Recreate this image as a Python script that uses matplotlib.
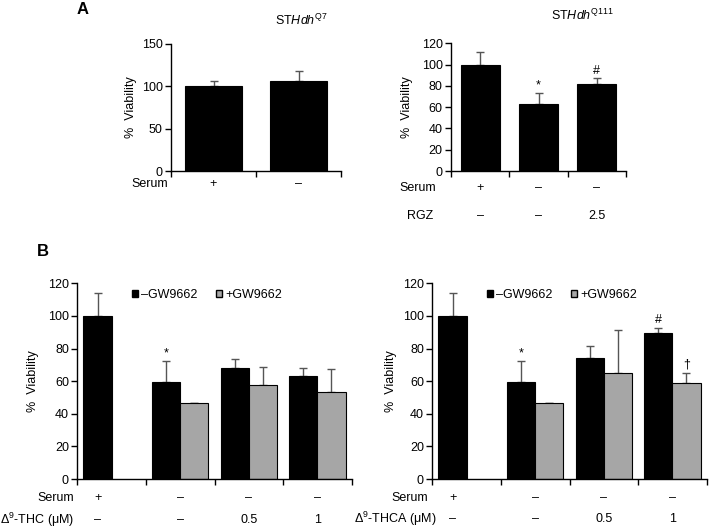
import matplotlib
matplotlib.use("Agg")
import matplotlib.pyplot as plt
from matplotlib.patches import Patch
import numpy as np

plt.rcParams['font.family'] = ['Liberation Sans', 'DejaVu Sans']
plt.rcParams['mathtext.fontset'] = 'custom'
plt.rcParams['mathtext.rm'] = 'Liberation Sans'
plt.rcParams['mathtext.it'] = 'Liberation Sans:italic'
FS = 9
plt.rcParams['font.size'] = FS

# ---------------- data ----------------
a1_labels = ['+', '–']
a1_vals = [100, 106.5]
a1_err = [6.5, 12]

a2_serum = ['+', '–', '–']
a2_rgz = ['–', '–', '2.5']
a2_vals = [100, 62.5, 82]
a2_err = [12, 11, 5]
a2_marks = ['', '*', '#']

b_serum = ['+', '–', '–', '–']
b_thc_conc = ['–', '–', '0.5', '1']
b1_black = [100, 59.5, 68.3, 63.2]
b1_black_err = [14.2, 12.6, 5.2, 5.0]
b1_gray = [np.nan, 46.5, 57.8, 53.2]
b1_gray_err = [np.nan, 0.0, 11, 14.5]
b1_marks_black = ['', '*', '', '']
b1_marks_gray = ['', '', '', '']

b2_black = [100, 59.5, 74.2, 89.5]
b2_black_err = [14.2, 12.6, 7.2, 3.0]
b2_gray = [np.nan, 46.5, 64.7, 58.8]
b2_gray_err = [np.nan, 0.0, 26.5, 6.0]
b2_marks_black = ['', '*', '', '#']
b2_marks_gray = ['', '', '', '†']

W, H = 709, 529
fig = plt.figure(figsize=(W / 100, H / 100), dpi=100)


def add_ax(x0, y0, x1, y1):
    return fig.add_axes([x0 / W, 1 - y1 / H, (x1 - x0) / W, (y1 - y0) / H])


def style(ax, ylim, yticks, ncat, labx):
    ax.set_ylim(*ylim)
    ax.set_yticks(yticks)
    ax.set_xlim(-0.5, ncat - 0.5)
    ax.set_xticks(np.arange(ncat + 1) - 0.5)
    ax.set_xticklabels([])
    for s in ['top', 'right']:
        ax.spines[s].set_visible(False)
    for s in ['left', 'bottom']:
        ax.spines[s].set_linewidth(1.0)
    ax.tick_params(axis='both', direction='out', length=4, width=1.0, labelsize=FS, pad=2)
    ax.set_ylabel('%  Viability', fontsize=FS)
    ax.yaxis.set_label_coords(labx, 0.5)


ecol = '#555555'
ekw = dict(ecolor=ecol, elinewidth=1.0, capsize=3, capthick=1.0)


def bars_with_err(ax, x, vals, err, width, color):
    vals = np.asarray(vals, float)
    err = np.asarray(err, float)
    ok = ~np.isnan(vals)
    ax.bar(x[ok], vals[ok], width=width, color=color, edgecolor='black', linewidth=0.8, zorder=2)
    e = np.where(np.isnan(err), 0, err)
    low = np.zeros_like(e)
    ax.errorbar(x[ok], vals[ok], yerr=[low[ok], e[ok]], fmt='none', zorder=1, **ekw)


def marks(ax, x, vals, err, syms, pad):
    for xi, v, e, s in zip(x, vals, err, syms):
        if s:
            ax.text(xi, v + e + pad, s, ha='center', va='bottom', fontsize=FS)


# ---------- Panel A left ----------
ax1 = add_ax(171, 44, 341, 171)
x = np.arange(len(a1_vals))
bars_with_err(ax1, x, a1_vals, a1_err, 0.68, 'black')
style(ax1, (0, 150), [0, 50, 100, 150], 2, -0.20)
fig.text(301 / W, 1 - 20 / H, r'ST$\mathit{Hdh}^{\mathrm{Q7}}$', ha='center', va='center', fontsize=FS)
fig.text(168 / W, 1 - 184 / H, 'Serum', ha='right', va='center', fontsize=FS)
for xi, s in zip(x, a1_labels):
    ax1.text(xi, -0.102, s, transform=ax1.get_xaxis_transform(), ha='center', va='center', fontsize=FS)

# ---------- Panel A right ----------
ax2 = add_ax(451, 43.3, 626, 171)
x = np.arange(len(a2_vals))
bars_with_err(ax2, x, a2_vals, a2_err, 0.67, 'black')
style(ax2, (0, 120), [0, 20, 40, 60, 80, 100, 120], 3, -0.217)
marks(ax2, x, a2_vals, a2_err, a2_marks, 1.0)
fig.text(582 / W, 1 - 15 / H, r'ST$\mathit{Hdh}^{\mathrm{Q111}}$', ha='center', va='center', fontsize=FS)
fig.text(436 / W, 1 - 188 / H, 'Serum', ha='right', va='center', fontsize=FS)
fig.text(407 / W, 1 - 216 / H, 'RGZ', ha='left', va='center', fontsize=FS)
for xi, s1, s2 in zip(x, a2_serum, a2_rgz):
    ax2.text(xi, (171 - 188) / 127.7, s1, transform=ax2.get_xaxis_transform(), ha='center', va='center', fontsize=FS)
    ax2.text(xi, (171 - 216) / 127.7, s2, transform=ax2.get_xaxis_transform(), ha='center', va='center', fontsize=FS)

fig.text(83 / W, 1 - 10 / H, 'A', ha='center', va='center', fontsize=12, fontweight='bold')
fig.text(43 / W, 1 - 252 / H, 'B', ha='center', va='center', fontsize=12, fontweight='bold')


# ---------- Panel B ----------
def panel_b(box, black, berr, gray, gerr, mb, mg, rowlab, rowlab_x, rowlab_right, labx, first_row_y, second_row_y):
    ax = add_ax(*box)
    n = len(black)
    x = np.arange(n)
    w = 0.41
    bars_with_err(ax, x - w / 2, black, berr, w, 'black')
    bars_with_err(ax, x + w / 2, gray, gerr, w, '#a6a6a6')
    style(ax, (0, 120), [0, 20, 40, 60, 80, 100, 120], n, labx)
    marks(ax, x - w / 2, black, berr, mb, 1.5)
    gv = np.nan_to_num(np.asarray(gray, float))
    ge = np.nan_to_num(np.asarray(gerr, float))
    marks(ax, x + w / 2, gv, ge, mg, 1.5)
    handles = [Patch(facecolor='black', edgecolor='black', label='–GW9662'),
               Patch(facecolor='#a6a6a6', edgecolor='black', label='+GW9662')]
    ax.legend(handles=handles, loc='center left', bbox_to_anchor=(0.198, 0.94), ncol=2, frameon=False,
              handlelength=0.5, handleheight=0.5, handletextpad=0.25, columnspacing=1.5,
              borderpad=0, borderaxespad=0, fontsize=FS)
    hpx = box[3] - box[1]
    labpos = [x[0] - w / 2] + list(x[1:])
    for xi, s1, s2 in zip(labpos, b_serum, b_thc_conc):
        ax.text(xi, (box[3] - first_row_y) / hpx, s1, transform=ax.get_xaxis_transform(), ha='center', va='center', fontsize=FS)
        ax.text(xi, (box[3] - second_row_y) / hpx, s2, transform=ax.get_xaxis_transform(), ha='center', va='center', fontsize=FS)
    fig.text(rowlab_right / W, 1 - first_row_y / H, 'Serum', ha='right', va='center', fontsize=FS)
    fig.text(rowlab_x / W, 1 - second_row_y / H, rowlab, ha='right', va='center', fontsize=FS)
    return ax


panel_b((77.3, 283.3, 351.7, 479), b1_black, b1_black_err, b1_gray, b1_gray_err,
        b1_marks_black, b1_marks_gray, 'Δ$^{9}$-THC (μM)', 74, 74, -0.14, 498, 520)
panel_b((432.3, 283.3, 706.7, 479), b2_black, b2_black_err, b2_gray, b2_gray_err,
        b2_marks_black, b2_marks_gray, 'Δ$^{9}$-THCA (μM)', 437, 428, -0.129, 498, 519)

fig.savefig('out.png', dpi=100)
